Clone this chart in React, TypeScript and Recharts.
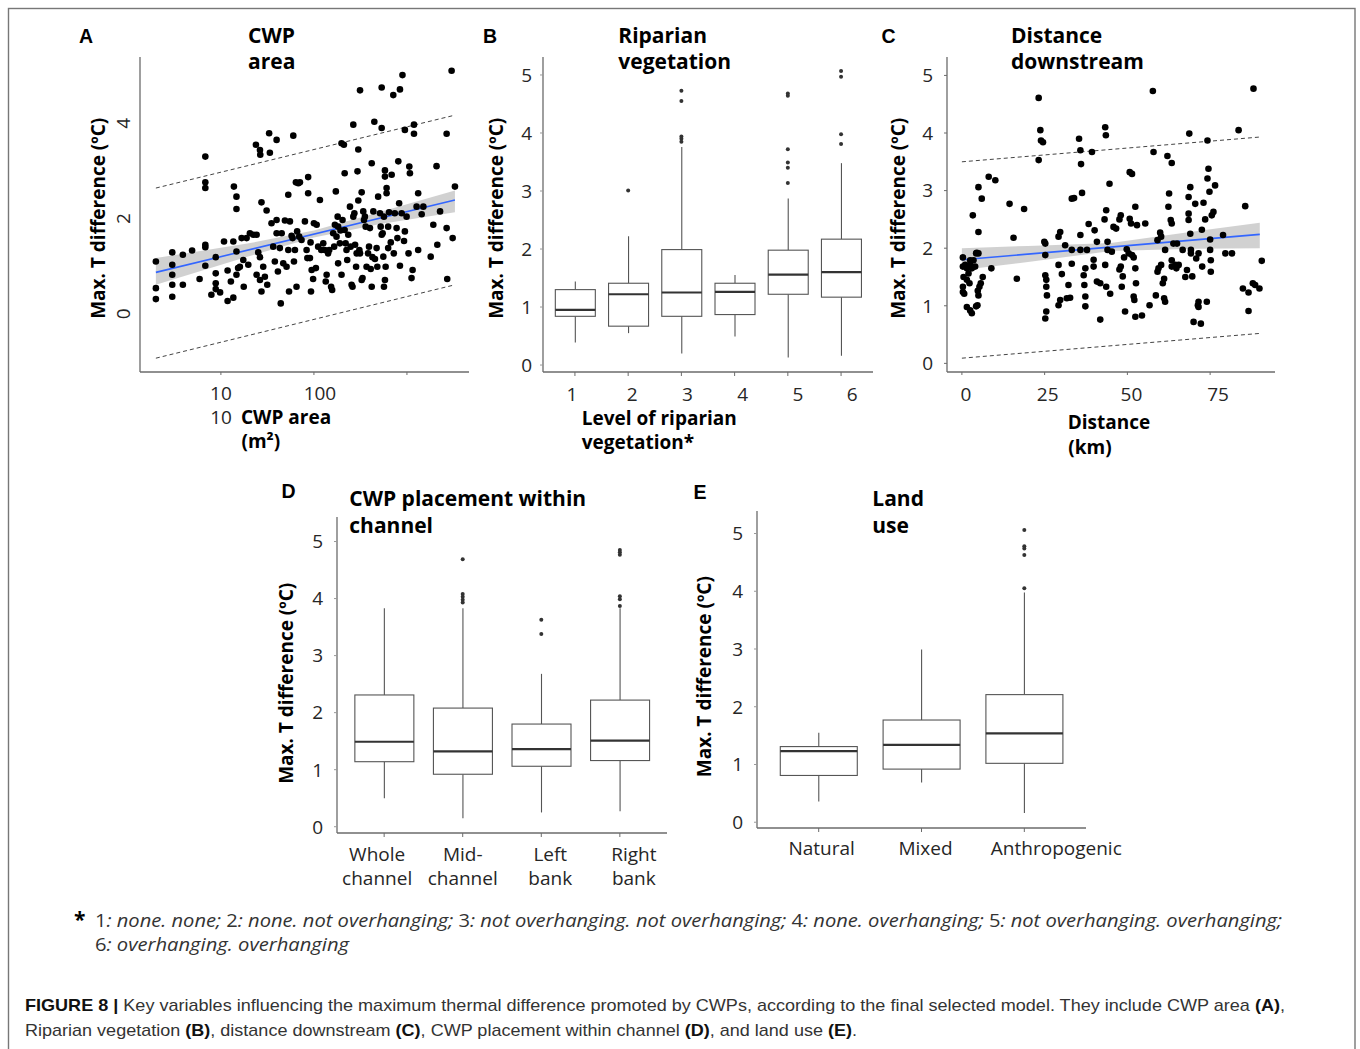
import React from 'react';
import { ComposedChart, Scatter, Line, Area, Bar, XAxis, YAxis } from 'recharts';

const SANS = '"Open Sans", "Noto Sans", sans-serif';
const ARIAL = '"Liberation Sans", Arial, sans-serif';
const AXIS = '#6b6b6b';
const INK = '#262626';

// ---------- A: CWP area (m²) vs max. T difference (ºC) ----------
const cwpAreaPoints: [number, number][] = [
  [2, 1.1], [2, 0.54], [2, 0.31], [3, 1.29], [3, 1.03], [3, 0.82], [3, 0.61], [3, 0.36], [3.9, 1.24], [3.9, 0.61],
  [4.9, 1.33], [5.9, 0.73], [6.8, 3.3], [6.8, 2.76], [6.8, 2.64], [6.8, 1.45], [6.8, 1.4], [6.8, 1.01], [7.9, 0.4], [8.8, 1.19],
  [8.8, 0.85], [8.8, 0.64], [8.8, 0.52], [9.8, 0.45], [10.8, 1.52], [11.8, 0.91], [11.8, 0.27], [12.8, 0.68], [13.6, 1.52], [13.6, 0.34],
  [13.8, 2.67], [14.7, 2.46], [14.7, 2.2], [14.7, 0.82], [14.7, 1.31], [15.3, 0.96], [16, 0.99], [16.7, 1.59], [17.4, 1.13], [17.6, 0.57],
  [18.9, 1.59], [19.7, 1.03], [20.5, 1.69], [22.3, 1.66], [23.8, 3.55], [24.2, 1.66], [24.2, 0.82], [25.2, 1.29], [26.3, 1.19], [26.3, 0.71],
  [26.3, 3.44], [26.5, 3.34], [27.3, 0.47], [27.3, 2.34], [28.5, 0.99], [29.7, 0.78], [31, 2.17], [31.5, 0.61], [33, 3.79], [33.6, 3.38],
  [35, 1.9], [36.5, 1.41], [38, 1.1], [39.7, 3.65], [39.7, 1.97], [39.7, 1.69], [41, 0.89], [43, 1.38], [44, 0.22], [45, 1.69],
  [46.8, 1.06], [48.8, 1.96], [50.8, 0.99], [53, 2.5], [53, 1.34], [54, 0.47], [55.2, 1.94], [57.5, 1.64], [59, 1.59], [60, 3.74],
  [61, 1.1], [62.5, 1.34], [64, 2.76], [65, 0.57], [66, 1.73], [68, 2.74], [69.5, 1.62], [70.7, 2.76], [73.6, 1.55], [80, 1.94],
  [83.4, 1.34], [85, 1.17], [86.7, 2.53], [86.7, 2.87], [90.6, 1.17], [92, 1.5], [93, 0.47], [94.5, 0.92], [98, 0.73], [100, 1.9],
  [105, 0.96], [107, 1.87], [111, 1.41], [116, 2.39], [120, 1.34], [126, 1.48], [131, 1.34], [134, 0.68], [137, 0.82], [142, 1.27],
  [146, 1.34], [153, 0.57], [157, 0.5], [161, 1.69], [165, 1.41], [168, 1.87], [172, 2.57], [175, 1.62], [180, 2.04], [182, 1.83],
  [182, 1.06], [190, 1.48], [193, 1.75], [198, 3.58], [198, 0.82], [203, 1.97], [210, 3.55], [214, 1.76], [214, 2.95], [219, 1.48],
  [224, 1.34], [228, 1.13], [234, 1.66], [244, 2.25], [248, 1.41], [254, 0.61], [260, 0.57], [265, 3.97], [265, 2.04], [272, 2.11],
  [277, 1.45], [284, 0.99], [288, 1.27], [294, 2.99], [300, 2.38], [300, 3.45], [308, 1.34], [313, 4.69], [313, 1.27], [326, 2.55],
  [326, 0.71], [333, 0.75], [339, 2.15], [345, 1.97], [353, 2.04], [360, 1.83], [368, 0.99], [382, 1.27], [391, 1.41], [400, 1.8],
  [408, 0.94], [418, 0.57], [418, 3.16], [426, 1.19], [435, 2.15], [446, 4.03], [453, 1.15], [472, 1.38], [480, 0.99], [490, 2.46],
  [513, 2.11], [522, 1.83], [535, 4.75], [535, 3.9], [535, 1.66], [548, 1.69], [557, 1.2], [566, 2.04], [566, 0.57], [580, 0.71],
  [580, 3.01], [580, 2.88], [590, 0.99], [604, 2.64], [604, 2.53], [628, 1.83], [628, 1.38], [642, 2.13], [670, 1.5], [685, 2.92],
  [713, 4.59], [722, 1.27], [740, 2.11], [774, 1.8], [790, 1.59], [807, 3.2], [824, 2.32], [841, 4.71], [841, 1.01], [877, 2.11],
  [895, 5.01], [930, 1.53], [950, 3.86], [950, 1.73], [991, 2.04], [1040, 1.27], [1060, 3.09], [1076, 2.95], [1120, 0.75], [1150, 0.92],
  [1190, 3.97], [1190, 3.78], [1270, 2.25], [1320, 2.53], [1320, 1.34], [1440, 2.09], [1500, 2.25], [1800, 1.2], [1920, 1.87], [2080, 3.1],
  [2120, 1.45], [2270, 2.15], [2670, 3.78], [2670, 1.8], [2710, 0.73], [3020, 5.1], [3100, 1.59], [3280, 2.67],
];

// fitted line, confidence ribbon and prediction band for A
const fitAreaX = [2, 20, 100, 500, 3280];
const fitAreaY = [0.87, null, null, null, 2.39];
const ciAreaLow = [0.61, 1.21, 1.6, 1.88, 2.13];
const ciAreaHigh = [1.17, 1.48, 1.75, 2.13, 2.59];
const piAreaHigh = [2.64, null, null, null, 4.17];
const piAreaLow = [-0.93, null, null, null, 0.61];

// ---------- C: distance downstream (km) ----------
const distancePoints: [number, number][] = [
  [0.3, 1.84], [0.3, 1.68], [0.5, 1.5], [0.3, 1.33], [0.3, 1.24], [0.7, 1.21], [1.0, 1.71], [1.5, 1.65], [1.5, 1.45], [2.0, 1.56],
  [2.3, 1.39], [2.5, 1.79], [2.5, 1.71], [3.0, 1.65], [3.5, 1.79], [4.0, 1.68], [4.3, 1.91], [4.5, 1.92], [5.0, 1.91], [1.5, 0.98],
  [2.5, 0.92], [3.0, 0.87], [4.3, 0.99], [4.7, 1.01], [4.8, 1.26], [5.0, 1.18], [5.3, 1.33], [5.7, 1.39], [6.3, 1.5], [5.0, 2.28],
  [5.0, 3.06], [3.3, 2.57], [6.0, 2.86], [8.1, 3.24], [10.1, 3.18], [8.9, 1.65], [14.4, 2.77], [15.6, 2.18], [16.6, 1.47], [18.8, 2.68],
  [23.2, 4.61], [23.7, 4.05], [23.9, 3.87], [24.5, 3.84], [23.2, 3.53], [24.9, 2.11], [25.2, 2.08], [25.2, 1.88], [25.2, 1.53], [25.5, 1.45],
  [25.5, 1.33], [25.7, 1.18], [25.5, 0.9], [25.2, 0.78], [29.2, 2.2], [29.7, 2.28], [29.2, 1.71], [30.2, 1.55], [29.7, 1.1], [29.2, 1.01],
  [31.2, 2.05], [31.7, 1.13], [32.2, 1.36], [32.7, 1.14], [33.2, 2.86], [33.9, 2.87], [33.2, 1.73], [33.2, 1.97], [35.4, 3.9], [35.8, 3.7],
  [36.0, 3.46], [36.3, 2.96], [35.8, 2.23], [35.8, 1.97], [36.8, 1.53], [37.3, 1.65], [37.0, 1.36], [37.3, 1.16], [37.3, 0.99], [37.8, 1.97],
  [38.3, 2.42], [39.3, 3.67], [40.1, 2.31], [39.8, 1.8], [39.8, 1.68], [40.8, 2.11], [40.8, 1.42], [41.8, 1.39], [41.8, 0.76], [43.3, 4.1],
  [43.5, 3.96], [43.6, 2.66], [43.1, 2.5], [43.3, 1.71], [43.6, 1.33], [44.0, 2.11], [44.0, 1.97], [44.6, 3.12], [44.8, 1.21], [45.3, 1.94],
  [45.8, 2.37], [46.6, 2.34], [47.6, 2.5], [48.0, 2.57], [47.6, 1.63], [48.0, 1.68], [48.3, 1.33], [48.6, 1.51], [49.0, 1.84], [49.3, 0.9],
  [49.8, 1.98], [50.4, 1.91], [50.7, 2.51], [50.7, 3.32], [51.1, 2.43], [51.4, 3.29], [51.4, 1.88], [51.9, 1.84], [52.4, 1.65], [51.9, 1.16],
  [52.1, 1.1], [52.4, 0.81], [52.6, 1.39], [52.4, 2.72], [52.9, 2.4], [54.4, 0.83], [55.4, 2.43], [56.7, 1.01], [57.7, 4.73], [57.9, 3.67],
  [58.6, 1.18], [59.1, 2.14], [59.1, 1.59], [59.4, 1.65], [59.9, 2.27], [60.2, 2.2], [60.2, 1.71], [60.7, 1.39], [61.1, 1.47], [61.1, 1.13],
  [61.4, 1.07], [61.4, 1.97], [62.1, 3.6], [62.4, 2.72], [62.6, 2.95], [63.1, 2.49], [63.4, 3.48], [63.4, 2.43], [63.4, 1.79], [63.4, 1.68],
  [63.9, 2.08], [65.0, 2.08], [64.5, 1.71], [64.8, 1.65], [65.5, 1.71], [66.7, 1.97], [67.5, 1.5], [68.0, 1.62], [68.5, 2.89], [68.5, 2.6],
  [68.5, 2.49], [68.7, 3.99], [69.0, 3.06], [69.0, 2.25], [69.2, 1.97], [69.2, 1.91], [69.6, 1.51], [70.0, 0.72], [70.5, 2.77], [70.8, 1.82],
  [71.3, 1.01], [71.5, 0.98], [71.5, 1.07], [71.5, 1.91], [72.2, 0.69], [72.5, 2.32], [72.6, 1.68], [73.0, 2.79], [73.5, 2.5], [74.0, 1.07],
  [74.2, 3.21], [74.2, 3.87], [74.5, 3.38], [74.8, 2.98], [75.0, 2.15], [75.0, 1.97], [75.2, 1.79], [75.2, 1.59], [75.5, 2.57], [76.0, 2.63],
  [76.5, 3.09], [78.9, 2.23], [79.6, 1.91], [81.6, 1.91], [83.6, 4.05], [84.9, 1.3], [85.6, 2.73], [86.6, 1.23], [86.6, 0.91], [87.9, 1.39],
  [88.1, 4.77], [88.6, 1.36], [89.9, 1.3], [90.6, 1.78],
];

const fitDistX = [0, 20, 45, 70, 90];
const fitDistY = [1.8, null, null, null, 2.24];
const ciDistLow = [1.62, 1.76, 1.95, 1.99, 2.0];
const ciDistHigh = [2.0, 2.04, 2.09, 2.29, 2.44];
const piDistHigh = [3.5, null, null, null, 3.93];
const piDistLow = [0.09, null, null, null, 0.52];

// ---------- B: level of riparian vegetation ----------
const vegLevel = [1, 2, 3, 4, 5, 6];
const vegMin = [0.39, 0.55, 0.2, 0.49, 0.13, 0.16];
const vegQ1 = [0.84, 0.67, 0.84, 0.87, 1.22, 1.17];
const vegMedian = [0.95, 1.22, 1.25, 1.26, 1.56, 1.6];
const vegQ3 = [1.3, 1.41, 1.99, 1.41, 1.98, 2.17];
const vegMax = [1.44, 2.22, 3.76, 1.55, 2.87, 3.48];
const vegOutliers: [number, number][] = [
  [2, 3.01], [3, 4.73], [3, 4.55], [3, 3.94], [3, 3.9], [3, 3.85],
  [5, 4.68], [5, 4.64], [5, 3.72], [5, 3.49], [5, 3.4], [5, 3.14],
  [6, 5.07], [6, 4.97], [6, 3.98], [6, 3.81],
];

// ---------- D: CWP placement within channel ----------
const placeNames = [['Whole', 'channel'], ['Mid-', 'channel'], ['Left', 'bank'], ['Right', 'bank']];
const placeMin = [0.5, 0.15, 0.25, 0.27];
const placeQ1 = [1.14, 0.92, 1.06, 1.16];
const placeMedian = [1.49, 1.32, 1.36, 1.51];
const placeQ3 = [2.31, 2.08, 1.8, 2.22];
const placeMax = [3.83, 3.83, 2.68, 3.83];
const placeOutliers: [number, number][] = [
  [2, 4.69], [2, 4.08], [2, 4.03], [2, 3.98], [2, 3.93],
  [3, 3.63], [3, 3.38],
  [4, 4.85], [4, 4.81], [4, 4.77], [4, 4.04], [4, 3.99], [4, 3.87],
];

// ---------- E: land use ----------
const landNames = ['Natural', 'Mixed', 'Anthropogenic'];
const landMin = [0.36, 0.69, 0.16];
const landQ1 = [0.81, 0.92, 1.02];
const landMedian = [1.23, 1.34, 1.54];
const landQ3 = [1.31, 1.77, 2.21];
const landMax = [1.55, 2.99, 3.98];
const landOutliers: [number, number][] = [[3, 5.06], [3, 4.78], [3, 4.74], [3, 4.63], [3, 4.05]];

// ---------- helpers ----------
const YW = 60;
const MT = 10;
const MR = 60;
const XH = 64;

type Plot = { x0: number; y0: number; x1: number; y1: number };

function place(p: Plot) {
  return { left: p.x0 - YW, top: p.y0 - MT, width: p.x1 - p.x0 + YW + MR, height: p.y1 - p.y0 + MT + XH };
}

const toXY = (pts: [number, number][]) => pts.map(([x, y]) => ({ x, y }));

function boxRows(xs: number[], min: number[], q1: number[], med: number[], q3: number[], max: number[]) {
  return xs.map((x, i) => ({ x, min: min[i], q1: q1[i], median: med[i], q3: q3[i], max: max[i] }));
}

function BoxShape(props: any) {
  const { x, y, width, height, payload } = props;
  if (!payload || height == null) return null;
  const top = Math.min(y, y + height);
  const k = Math.abs(height) / (payload.max - payload.min);
  const py = (v: number) => top + (payload.max - v) * k;
  const cx = x + width / 2;
  return (
    <g>
      <line x1={cx} x2={cx} y1={py(payload.max)} y2={py(payload.q3)} stroke="#555" strokeWidth={1.1} />
      <line x1={cx} x2={cx} y1={py(payload.q1)} y2={py(payload.min)} stroke="#555" strokeWidth={1.1} />
      <rect x={x} y={py(payload.q3)} width={width} height={py(payload.q1) - py(payload.q3)} fill="#fff" stroke="#555" strokeWidth={1.1} />
      <line x1={x} x2={x + width} y1={py(payload.median)} y2={py(payload.median)} stroke="#333" strokeWidth={2.2} />
    </g>
  );
}

const bigDot = (p: any) => <circle cx={p.cx} cy={p.cy} r={3.3} fill="#000" />;
const smallDot = (p: any) => <circle cx={p.cx} cy={p.cy} r={2} fill="#333" />;

const yTick = (p: any) => (
  <text x={p.x} y={p.y} dy="0.36em" textAnchor="end" fontFamily={SANS} fontSize={19} fill={INK}>
    {p.payload.value}
  </text>
);

function ChartA() {
  const plot = { x0: 140, y0: 57, x1: 469, y1: 372 };
  const f = place(plot);
  const rows = fitAreaX.map((x, i) => ({
    x, fit: fitAreaY[i], lo: ciAreaLow[i], hi: ciAreaHigh[i], up: piAreaHigh[i], dn: piAreaLow[i],
  }));
  const nudge = [0, 6, 0];
  return (
    <div style={{ position: 'absolute', left: f.left, top: f.top }}>
      <ComposedChart width={f.width} height={f.height} data={rows} margin={{ top: MT, right: MR, bottom: 0, left: 0 }}>
        <XAxis type="number" dataKey="x" scale="log" domain={[1.35, 4645]} allowDataOverflow ticks={[10, 100, 1000]}
          height={XH} axisLine={{ stroke: AXIS, strokeWidth: 1.3 }} tickLine={{ stroke: AXIS }} tickSize={3} tickMargin={3}
          tick={(p: any) => p.index === 2 ? <g /> : (
            <text x={p.x + nudge[p.index]} y={p.y + 22} textAnchor="middle" fontFamily={SANS} fontSize={19} fill={INK}>{p.payload.value}</text>
          )} />
        <YAxis type="number" domain={[-1.22, 5.39]} allowDataOverflow ticks={[0, 2, 4]} width={YW}
          axisLine={{ stroke: AXIS, strokeWidth: 1.3 }} tickLine={false} tickSize={3} tickMargin={7}
          tick={(p: any) => (
            <text transform={`translate(${p.x}, ${p.y}) rotate(-90)`} textAnchor="middle" fontFamily={SANS} fontSize={19} fill={INK}>{p.payload.value}</text>
          )} />
        <Scatter data={toXY(cwpAreaPoints)} dataKey="y" shape={bigDot} isAnimationActive={false} />
        <Area type="linear" dataKey={(d: any) => [d.lo, d.hi]} stroke="none" fill="#999999" fillOpacity={0.45} isAnimationActive={false} />
        <Line type="linear" dataKey="fit" stroke="#3366ff" strokeWidth={1.6} dot={false} connectNulls isAnimationActive={false} />
        <Line type="linear" dataKey="up" stroke="#444" strokeWidth={1} strokeDasharray="4 3" dot={false} connectNulls isAnimationActive={false} />
        <Line type="linear" dataKey="dn" stroke="#444" strokeWidth={1} strokeDasharray="4 3" dot={false} connectNulls isAnimationActive={false} />
      </ComposedChart>
    </div>
  );
}

function ChartC() {
  const plot = { x0: 947, y0: 57, x1: 1275, y1: 372 };
  const f = place(plot);
  const rows = fitDistX.map((x, i) => ({
    x, fit: fitDistY[i], lo: ciDistLow[i], hi: ciDistHigh[i], up: piDistHigh[i], dn: piDistLow[i],
  }));
  const nudge = [4, 3, 4, 8];
  return (
    <div style={{ position: 'absolute', left: f.left, top: f.top }}>
      <ComposedChart width={f.width} height={f.height} data={rows} margin={{ top: MT, right: MR, bottom: 0, left: 0 }}>
        <XAxis type="number" dataKey="x" domain={[-4.5, 94.6]} allowDataOverflow ticks={[0, 25, 50, 75]}
          height={XH} axisLine={{ stroke: AXIS, strokeWidth: 1.3 }} tickLine={{ stroke: AXIS }} tickSize={3} tickMargin={3}
          tick={(p: any) => (
            <text x={p.x + nudge[p.index]} y={p.y + 22.5} textAnchor="middle" fontFamily={SANS} fontSize={19} fill={INK}>{p.payload.value}</text>
          )} />
        <YAxis type="number" domain={[-0.15, 5.32]} allowDataOverflow ticks={[0, 1, 2, 3, 4, 5]} width={YW}
          axisLine={{ stroke: AXIS, strokeWidth: 1.3 }} tickLine={{ stroke: AXIS }} tickSize={3} tickMargin={11} tick={yTick} />
        <Scatter data={toXY(distancePoints)} dataKey="y" shape={bigDot} isAnimationActive={false} />
        <Area type="linear" dataKey={(d: any) => [d.lo, d.hi]} stroke="none" fill="#999999" fillOpacity={0.45} isAnimationActive={false} />
        <Line type="linear" dataKey="fit" stroke="#3366ff" strokeWidth={1.6} dot={false} connectNulls isAnimationActive={false} />
        <Line type="linear" dataKey="up" stroke="#444" strokeWidth={1} strokeDasharray="4 3" dot={false} connectNulls isAnimationActive={false} />
        <Line type="linear" dataKey="dn" stroke="#444" strokeWidth={1} strokeDasharray="4 3" dot={false} connectNulls isAnimationActive={false} />
      </ComposedChart>
    </div>
  );
}

type BoxChartProps = {
  plot: Plot;
  xDomain: [number, number];
  yDomain: [number, number];
  rows: any[];
  outliers: { x: number; y: number }[];
  barSize: number;
  yTickMargin: number;
  xTick: (p: any) => React.ReactElement;
};

function BoxChart({ plot, xDomain, yDomain, rows, outliers, barSize, yTickMargin, xTick }: BoxChartProps) {
  const f = place(plot);
  return (
    <div style={{ position: 'absolute', left: f.left, top: f.top }}>
      <ComposedChart width={f.width} height={f.height} data={rows} margin={{ top: MT, right: MR, bottom: 0, left: 0 }}>
        <XAxis type="number" dataKey="x" domain={xDomain} allowDataOverflow ticks={rows.map((r) => r.x)}
          height={XH} axisLine={{ stroke: AXIS, strokeWidth: 1.3 }} tickLine={{ stroke: AXIS }} tickSize={4} tickMargin={2} tick={xTick} />
        <YAxis type="number" domain={yDomain} allowDataOverflow ticks={[0, 1, 2, 3, 4, 5]} width={YW}
          axisLine={{ stroke: AXIS, strokeWidth: 1.3 }} tickLine={{ stroke: '#999' }} tickSize={3} tickMargin={yTickMargin} tick={yTick} />
        <Bar dataKey={(d: any) => [d.min, d.max]} barSize={barSize} shape={BoxShape} isAnimationActive={false} />
        <Scatter data={outliers} dataKey="y" shape={smallDot} isAnimationActive={false} />
      </ComposedChart>
    </div>
  );
}

const vegNudge = [-3, 4, 6, 8, 10, 11];
const placeNudge = [-7, 0, 9, 14];
const landNudge = [3, 4, 32];

function T(props: any) {
  const { x, y, size = 19, weight = 400, family = SANS, anchor = 'start', fill = '#000', style, len, rot, children } = props;
  const extra: any = {};
  if (len) { extra.textLength = len; extra.lengthAdjust = 'spacingAndGlyphs'; }
  if (rot) {
    return (
      <text transform={`translate(${x}, ${y}) rotate(-90)`} textAnchor={anchor} fontFamily={family} fontSize={size} fontWeight={weight} fill={fill}>
        {children}
      </text>
    );
  }
  return (
    <text x={x} y={y} textAnchor={anchor} fontFamily={family} fontSize={size} fontWeight={weight} fontStyle={style} fill={fill} {...extra}>
      {children}
    </text>
  );
}

function Overlay() {
  const yTitle = 'Max. T difference (ºC)';
  return (
    <svg width={1360} height={1049} style={{ position: 'absolute', left: 0, top: 0, pointerEvents: 'none' }}>
      <rect x={8.5} y={8.5} width={1346.5} height={1100} fill="none" stroke="#777" strokeWidth={1.4} />

      <T x={79} y={43.3} family={ARIAL} weight={700} size={19.5}>A</T>
      <T x={483} y={43.3} family={ARIAL} weight={700} size={19.5}>B</T>
      <T x={881.5} y={43.3} family={ARIAL} weight={700} size={19.5}>C</T>
      <T x={281.5} y={498.3} family={ARIAL} weight={700} size={19.5}>D</T>
      <T x={693.5} y={499.3} family={ARIAL} weight={700} size={19.5}>E</T>

      <T x={248} y={42.7} size={21} weight={700}>CWP</T>
      <T x={248} y={69.3} size={21} weight={700}>area</T>
      <T x={618.3} y={42.7} size={21} weight={700}>Riparian</T>
      <T x={618.3} y={69.3} size={21} weight={700}>vegetation</T>
      <T x={1011} y={42.7} size={21} weight={700}>Distance</T>
      <T x={1011} y={69.3} size={21} weight={700}>downstream</T>
      <T x={349.3} y={506} size={21} weight={700}>CWP placement within</T>
      <T x={349.3} y={533.3} size={21} weight={700}>channel</T>
      <T x={872.3} y={506} size={21} weight={700}>Land</T>
      <T x={872.3} y={533.3} size={21} weight={700}>use</T>

      <T rot x={104.5} y={218.3} anchor="middle" weight={700}>{yTitle}</T>
      <T rot x={503} y={218.3} anchor="middle" weight={700}>{yTitle}</T>
      <T rot x={904.5} y={218.3} anchor="middle" weight={700}>{yTitle}</T>
      <T rot x={293} y={683.3} anchor="middle" weight={700}>{yTitle}</T>
      <T rot x={711} y={676.7} anchor="middle" weight={700}>{yTitle}</T>

      <T x={221} y={423.5} anchor="middle" fill={INK}>10</T>
      <T x={241} y={423.5} weight={700}>CWP area</T>
      <T x={241.5} y={448} weight={700}>(m²)</T>
      <T x={581.7} y={424.5} weight={700}>Level of riparian</T>
      <T x={581.7} y={448.5} weight={700}>vegetation*</T>
      <T x={1067.7} y={429} weight={700}>Distance</T>
      <T x={1068.3} y={453.5} weight={700}>(km)</T>

      <T x={74} y={927} weight={700} size={21}>*</T>
      <T x={95} y={927} fill="#333" len={1187}>
        <tspan>1</tspan><tspan fontStyle="italic">: none. none; </tspan>
        <tspan>2</tspan><tspan fontStyle="italic">: none. not overhanging; </tspan>
        <tspan>3</tspan><tspan fontStyle="italic">: not overhanging. not overhanging; </tspan>
        <tspan>4</tspan><tspan fontStyle="italic">: none. overhanging; </tspan>
        <tspan>5</tspan><tspan fontStyle="italic">: not overhanging. overhanging;</tspan>
      </T>
      <T x={95} y={951} fill="#333" len={254}>
        <tspan>6</tspan><tspan fontStyle="italic">: overhanging. overhanging</tspan>
      </T>

      <T x={25} y={1011} family={ARIAL} size={17} fill="#333" len={1260}>
        <tspan fontWeight={700} fill="#111">FIGURE 8 | </tspan>
        <tspan>Key variables influencing the maximum thermal difference promoted by CWPs, according to the final selected model. They include CWP area </tspan>
        <tspan fontWeight={700} fill="#111">(A)</tspan><tspan>,</tspan>
      </T>
      <T x={25} y={1036} family={ARIAL} size={17} fill="#333" len={832}>
        <tspan>Riparian vegetation </tspan><tspan fontWeight={700} fill="#111">(B)</tspan>
        <tspan>, distance downstream </tspan><tspan fontWeight={700} fill="#111">(C)</tspan>
        <tspan>, CWP placement within channel </tspan><tspan fontWeight={700} fill="#111">(D)</tspan>
        <tspan>, and land use </tspan><tspan fontWeight={700} fill="#111">(E)</tspan><tspan>.</tspan>
      </T>
    </svg>
  );
}

export default function App() {
  const vegRows = boxRows(vegLevel, vegMin, vegQ1, vegMedian, vegQ3, vegMax);
  const placeRows = boxRows([1, 2, 3, 4], placeMin, placeQ1, placeMedian, placeQ3, placeMax);
  const landRows = boxRows([1, 2, 3], landMin, landQ1, landMedian, landQ3, landMax);

  return (
    <div style={{ position: 'absolute', left: 0, top: 0, width: 1360, height: 1049, overflow: 'hidden', background: '#fff' }}>
      <ChartA />
      <BoxChart
        plot={{ x0: 543, y0: 57, x1: 873, y1: 372 }}
        xDomain={[0.4, 6.6]}
        yDomain={[-0.12, 5.31]}
        rows={vegRows}
        outliers={toXY(vegOutliers)}
        barSize={40}
        yTickMargin={8}
        xTick={(p: any) => (
          <text x={p.x + vegNudge[p.index]} y={p.y + 23} textAnchor="middle" fontFamily={SANS} fontSize={19} fill={INK}>{p.payload.value}</text>
        )}
      />
      <ChartC />
      <BoxChart
        plot={{ x0: 337, y0: 517, x1: 667, y1: 833 }}
        xDomain={[0.4, 4.6]}
        yDomain={[-0.11, 5.43]}
        rows={placeRows}
        outliers={toXY(placeOutliers)}
        barSize={59}
        yTickMargin={11}
        xTick={(p: any) => (
          <text x={p.x + placeNudge[p.index]} y={p.y + 22.4} textAnchor="middle" fontFamily={SANS} fontSize={19} fill={INK}>
            <tspan x={p.x + placeNudge[p.index]}>{placeNames[p.index][0]}</tspan>
            <tspan x={p.x + placeNudge[p.index]} dy={23.3}>{placeNames[p.index][1]}</tspan>
          </text>
        )}
      />
      <BoxChart
        plot={{ x0: 757, y0: 511, x1: 1086, y1: 828 }}
        xDomain={[0.4, 3.6]}
        yDomain={[-0.1, 5.39]}
        rows={landRows}
        outliers={toXY(landOutliers)}
        barSize={77}
        yTickMargin={11}
        xTick={(p: any) => (
          <text x={p.x + landNudge[p.index]} y={p.y + 20.7} textAnchor="middle" fontFamily={SANS} fontSize={19} fill={INK}>{landNames[p.index]}</text>
        )}
      />
      <Overlay />
    </div>
  );
}
